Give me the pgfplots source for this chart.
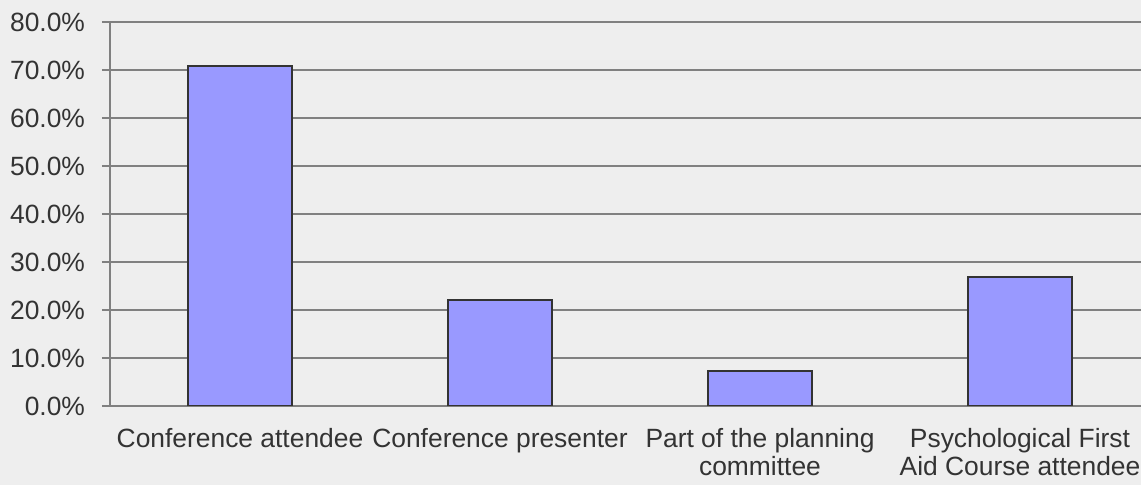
\documentclass[border=0pt]{standalone}
\usepackage{pgfplots}
\pgfplotsset{compat=1.18}
\usepackage{fontspec}
\setmainfont{Liberation Sans}
\definecolor{bg}{HTML}{EEEEEE}
\definecolor{barfill}{HTML}{9999FF}
\definecolor{txt}{HTML}{333333}
\definecolor{gridc}{HTML}{808080}
\begin{document}
\begin{tikzpicture}[x=1pt,y=1pt]
\fill[bg] (0,0) rectangle (570.5,242.5);
\begin{axis}[
  at={(55pt,39.5pt)}, anchor=south west,
  scale only axis, width=520pt, height=192pt,
  xmin=-0.5, xmax=3.5, ymin=0, ymax=80,
  axis x line*=bottom, axis y line*=left,
  axis line style={gridc, line width=0.8pt, -},
  ytick={0,10,...,80},
  ymajorgrids, grid style={gridc, line width=0.8pt},
  xtick={0,1,2,3},
  xticklabels={Conference attendee, Conference presenter, Part of the planning\\committee, Psychological First\\Aid Course attendee},
  major x tick style={draw=none},
  extra x ticks={-0.5,0.5,1.5,2.5,3.5},
  extra x tick labels={},
  extra x tick style={major tick length=4pt, tick style={gridc, line width=0.6pt}, grid=none},
  tick align=outside,
  major tick length=4pt,
  tick style={gridc, line width=0.8pt},
  /pgf/number format/assume math mode=true,
  yticklabel={\pgfmathprintnumber[fixed,fixed zerofill,precision=1]{\tick}\%},
  yticklabel style={font=\fontsize{13.2}{14}\selectfont, text=txt, xshift=-5pt},
  xticklabel style={font=\fontsize{13.2}{14.2}\selectfont, text=txt, align=center, anchor=north, yshift=-3.5pt},
  ybar, bar width=52pt,
]
\addplot[fill=barfill, draw=txt, line width=1.3pt] coordinates {(0,70.8) (1,22.1) (2,7.3) (3,26.9)};
\end{axis}
\pgfresetboundingbox
\useasboundingbox (0,0) rectangle (570.5,242.5);
\end{tikzpicture}
\end{document}
